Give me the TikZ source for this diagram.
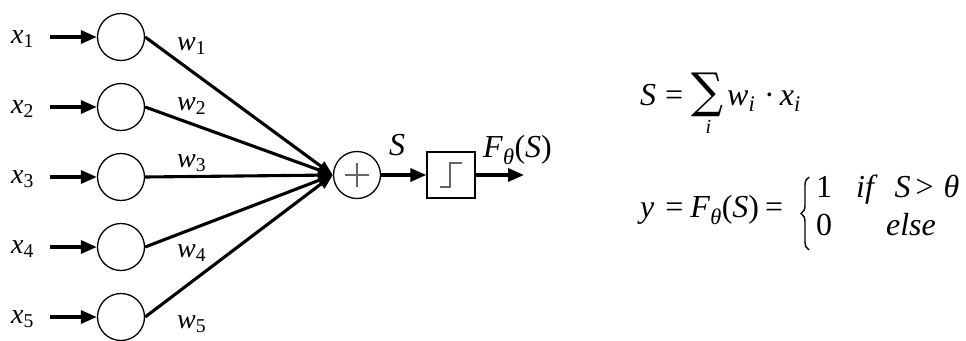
\documentclass[tikz,border=0pt]{standalone}
\usepackage{graphicx}
\usepackage{fontspec}
\setmainfont{Liberation Serif}
\newfontfamily\sigfont{DejaVu Serif}
\usetikzlibrary{arrows.meta,decorations.pathreplacing}
\tikzset{
  neuron/.style={draw, circle, line width=1.3pt, minimum size=47pt, inner sep=0pt},
  thickarr/.style={line width=3.4pt, -{Triangle[length=16pt,width=13pt]}},
  wline/.style={line width=3.1pt, -{Triangle[length=15pt,width=11pt]}},
  lbl/.style={inner sep=0pt, font=\fontsize{28}{34}\selectfont},
  eq/.style={inner sep=0pt, font=\fontsize{32}{38}\selectfont},
  stepbox/.style={draw, rectangle, line width=1.3pt, minimum width=48pt, minimum height=46pt, inner sep=0pt},
  glyph/.style={draw=black!60, line width=1.8pt},
  bracestyle/.style={decorate, decoration={brace, amplitude=8pt}, line width=1.4pt},
}
\begin{document}
\begin{tikzpicture}[x=1pt,y=-1pt]
\useasboundingbox (0,0) rectangle (966,340);
% input neurons
\foreach \i/\cy/\wy in {1/37/50, 2/107/110, 3/177/167, 4/247/257, 5/317/328}{
  \node[neuron] (c\i) at (121,\cy) {};
  \node[lbl, anchor=base west] (x\i) at (11,\cy+6) {\textit{x}\textsubscript{\i}};
  \coordinate (a\i) at (50,\cy);
  \node[lbl, anchor=base west] (w\i) at (177,\wy) {\textit{w}\textsubscript{\i}};
}
\node[neuron] (sum) at (357,175) {};
\draw[glyph] (sum.center) ++(-12,0) -- ++(24,0);
\draw[glyph] (sum.center) ++(0,-12) -- ++(0,24);
\foreach \i in {1,...,5}{
  \draw[thickarr] (a\i) -- (c\i);
  \draw[wline] (c\i.east) -- (sum.west);
}
\node[stepbox] (box) at (451,175) {};
\draw[glyph] (box.center) ++(-11,12) -- ++(10,0) -- ++(0,-24) -- ++(12,0);
\coordinate (out) at (524,175);
\draw[thickarr] (sum) -- (box);
\draw[thickarr] (box) -- (out);
\node[eq, anchor=base west] (slbl) at (389,155) {\textit{S}};
\node[eq, anchor=base west] (flbl) at (483,157) {\textit{F}\textsubscript{\textit{θ}}(\textit{S})};
% equation 1
\node[eq, anchor=base west] (e1a) at (640,105) {\textit{S}\hspace{9pt}=};
\node[eq] (sig) at (707.5,95) {\scalebox{1.4}[1.5]{\sigfont ∑}};
\node[lbl, anchor=base] (sigi) at (708.5,133) {\fontsize{20}{24}\selectfont\textit{i}};
\node[eq, anchor=base west] (e1b) at (727,105) {\textit{w}\textsubscript{\textit{i}}};
\node[eq, anchor=base west] (e1c) at (764,105) {·\hspace{5pt}\textit{x}\textsubscript{\textit{i}}};
% equation 2
\node[eq, anchor=base west] (e2a) at (640,217) {\textit{y}\hspace{11pt}=\hspace{7pt}\textit{F}\textsubscript{\textit{θ}}(\textit{S})\hspace{6pt}=};
\coordinate (bt) at (809,177);
\coordinate (bb) at (809,250);
\draw[bracestyle] (bb) -- (bt);
\node[eq, anchor=base west] (one) at (816,197) {1};
\node[eq, anchor=base west] (zero) at (816,235) {0};
\node[eq, anchor=base west] (cond) at (856,197) {\textit{if}\hspace{17pt}\textit{S}\hspace{5pt}>\hspace{10pt}\textit{θ}};
\node[eq, anchor=base] (els) at (911,235) {\textit{else}};
\end{tikzpicture}
\end{document}
